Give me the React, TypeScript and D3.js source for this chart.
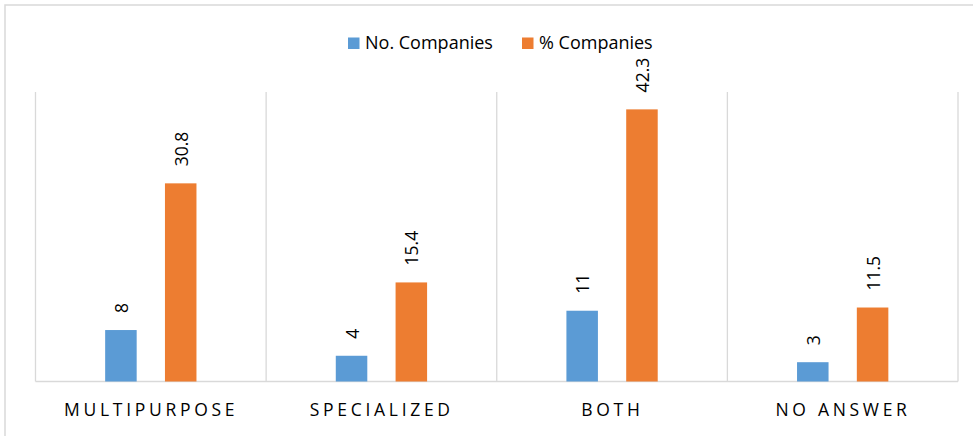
import React from "react";
import * as d3 from "d3";

const categories = ["MULTIPURPOSE", "SPECIALIZED", "BOTH", "NO ANSWER"];
const seriesNames = ["No. Companies", "% Companies"];
const noCompanies = [8, 4, 11, 3];
const pctCompanies = [30.8, 15.4, 42.3, 11.5];
const seriesColors = ["#5B9BD5", "#ED7D31"];
const yMax = 45;

const W = 973;
const H = 436;
const FONT = "'Open Sans', sans-serif";

export default function App() {
  const x = d3.scaleBand<string>().domain(categories).range([35.5, 958]).padding(0);
  const xi = d3
    .scaleBand<string>()
    .domain(seriesNames)
    .range([0, x.bandwidth()])
    .paddingInner(0.473)
    .paddingOuter(1.165);
  const y = d3.scaleLinear().domain([0, yMax]).range([381.5, 92]);
  const seriesData = [noCompanies, pctCompanies];
  const boundaries = [...categories.map((c) => x(c)!), x.range()[1]];
  const ls = 3.7;

  return (
    <svg width={W} height={H} style={{ position: "absolute", left: 0, top: 0, display: "block" }}>
      <rect x={0} y={0} width={W} height={H} fill="#fff" />
      <rect x={5} y={5} width={1000} height={600} fill="#fff" stroke="#d9d9d9" strokeWidth={1.5} />
      {boundaries.map((b, i) => (
        <line key={"g" + i} x1={b} x2={b} y1={y(yMax)} y2={y(0)} stroke="#d9d9d9" strokeWidth={1.3} />
      ))}
      <line x1={x.range()[0]} x2={x.range()[1]} y1={y(0)} y2={y(0)} stroke="#d9d9d9" strokeWidth={1.5} />
      {seriesNames.map((s, si) =>
        categories.map((c, ci) => {
          const v = seriesData[si][ci];
          const bx = x(c)! + xi(s)!;
          const top = y(v);
          const cx = bx + xi.bandwidth() / 2;
          const ly = top - 17;
          return (
            <g key={s + c}>
              <rect x={bx} y={top} width={xi.bandwidth()} height={y(0) - top} fill={seriesColors[si]} />
              <text
                x={cx}
                y={ly}
                transform={`rotate(-90 ${cx} ${ly})`}
                dominantBaseline="central"
                textAnchor="start"
                fontFamily={FONT}
                fontSize={17.5}
                fill="#000"
              >
                {String(v)}
              </text>
            </g>
          );
        })
      )}
      {categories.map((c) => (
        <text
          key={"c" + c}
          x={x(c)! + x.bandwidth() / 2 + ls / 2 - 1.5}
          y={416}
          textAnchor="middle"
          fontFamily={FONT}
          fontSize={17.5}
          letterSpacing={ls}
          fill="#000"
        >
          {c}
        </text>
      ))}
      {seriesNames.map((s, si) => {
        const lx = [348, 522][si];
        return (
          <g key={"l" + s}>
            <rect x={lx} y={37.5} width={11.5} height={11.5} fill={seriesColors[si]} />
            <text x={lx + 17} y={48.5} fontFamily={FONT} fontSize={18} fill="#000">
              {s}
            </text>
          </g>
        );
      })}
    </svg>
  );
}
